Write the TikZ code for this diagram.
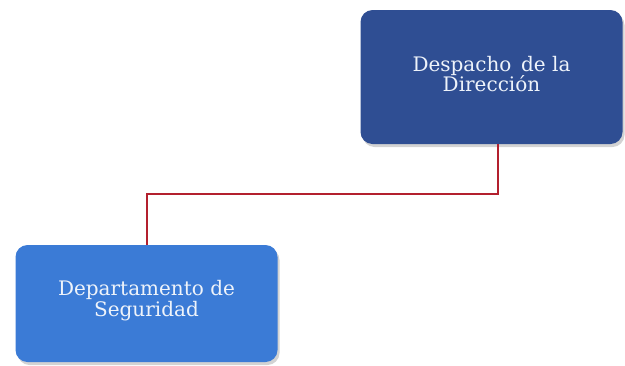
\documentclass[tikz,border=0pt]{standalone}
\usepackage{fontspec}
\setmainfont{DejaVu Serif}
\usetikzlibrary{shadows}
\definecolor{darkbox}{HTML}{2F4E93}
\definecolor{lightbox}{HTML}{3B7BD6}
\definecolor{boxtext}{HTML}{EEF3FA}
\definecolor{linkred}{HTML}{B3202E}
\tikzset{
  orgbox/.style={rounded corners=12pt, minimum width=262pt, minimum height=#1,
    inner sep=0pt,
    drop shadow={shadow xshift=2pt, shadow yshift=-3pt, opacity=0.35}},
  boxlabel/.style={text=boxtext, align=center, inner sep=0pt,
    font=\fontsize{20}{20.5}\selectfont},
  link/.style={draw=linkred, line width=2pt}
}
\begin{document}
\begin{tikzpicture}[x=1pt,y=-1pt]
\useasboundingbox (0,0) rectangle (625,365);
\node[orgbox=134pt, fill=darkbox] (dir) at (491.5,77) {};
\node[boxlabel] (dirtext) at (dir.center) [yshift=3pt] {Despacho\,\ de la\\Dirección};
\node[orgbox=117pt, fill=lightbox] (seg) at (146.5,303.5) {};
\node[boxlabel] (segtext) at (seg.center) [yshift=3pt] {Departamento de\\Seguridad};
\coordinate (bend) at (0,194);
\draw[link] (dir.south -| 498,0) |- (bend -| seg.north) -- (seg.north);
\end{tikzpicture}
\end{document}
